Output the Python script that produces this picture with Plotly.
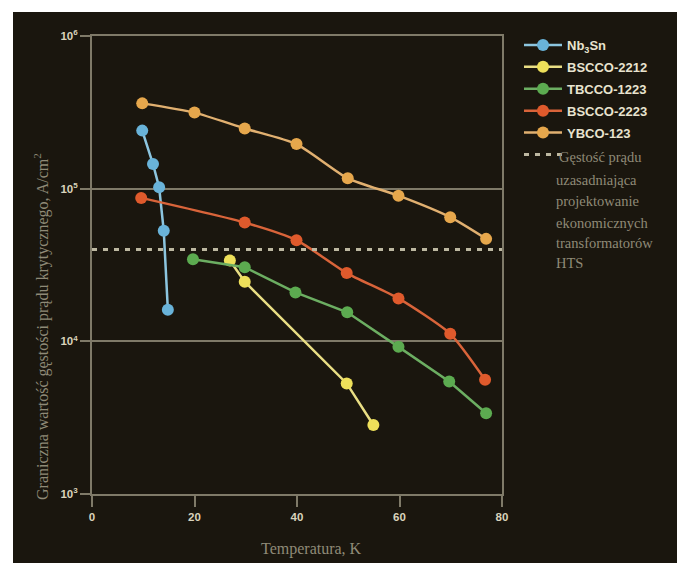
import plotly.graph_objects as go

# ---- data ----
nb3sn_T = [9.8, 11.9, 13.1, 14.0, 14.8]
nb3sn_J = [240000, 145000, 102000, 53000, 16100]

bscco2212_T = [26.9, 29.8, 49.7, 54.9]
bscco2212_J = [33800, 24600, 5300, 2830]

tbcco1223_T = [19.7, 29.8, 39.7, 49.8, 59.8, 69.7, 76.9]
tbcco1223_J = [34500, 30600, 20900, 15500, 9200, 5450, 3380]

bscco2223_T = [9.6, 29.8, 39.9, 49.7, 59.8, 69.9, 76.7]
bscco2223_J = [87000, 60000, 46000, 28000, 19100, 11200, 5600]

ybco123_T = [9.8, 20.0, 29.8, 39.9, 49.9, 59.8, 69.9, 76.9]
ybco123_J = [362000, 315000, 248000, 196000, 117000, 90000, 65000, 46900]

threshold_T = [0, 80]
threshold_J = [40000, 40000]

x_ticks = [0, 20, 40, 60, 80]
y_ticks = [1e3, 1e4, 1e5, 1e6]
y_tick_text = ["10<sup>3</sup>", "10<sup>4</sup>", "10<sup>5</sup>", "10<sup>6</sup>"]

series_names = ["Nb<sub>3</sub>Sn", "BSCCO-2212", "TBCCO-1223", "BSCCO-2223", "YBCO-123"]
caption_lines = ["Gęstość prądu", "uzasadniająca", "projektowanie",
                 "ekonomicznych", "transformatorów", "HTS"]

# ---- style ----
OFF = 8  # page body margin; reference pixel positions are shifted by this
W, H = 685 - OFF, 563 - OFF
L, R, T, B = 92 - OFF, 502 - OFF, 36 - OFF, 494 - OFF
BG = "#1a160e"
GRID = "#7f7a68"
TICKFONT = "#d9d3bb"
SERIF = "#8f8a77"

colors = ["#69b3d9", "#eee05a", "#5cab50", "#df5a2c", "#e6a74c"]
line_colors = ["#8cc5df", "#e9de84", "#6cae62", "#d9643a", "#e1b070"]
shapes_ = ["linear", "linear", "linear", "spline", "spline"]

fig = go.Figure()
data = [(nb3sn_T, nb3sn_J), (bscco2212_T, bscco2212_J), (tbcco1223_T, tbcco1223_J),
        (bscco2223_T, bscco2223_J), (ybco123_T, ybco123_J)]
for i, ((xs, ys), name) in enumerate(zip(data, series_names)):
    fig.add_trace(go.Scatter(
        x=xs, y=ys, name=name, mode="lines+markers",
        line=dict(color=line_colors[i], width=2.5, shape=shapes_[i], smoothing=0.6),
        marker=dict(color=colors[i], size=12),
        legendgroup=f"g{i}", legendrank=i + 1,
    ))

fig.add_trace(go.Scatter(
    x=threshold_T, y=threshold_J, name=" ", mode="lines",
    line=dict(color="#bdb8a1", width=3, dash="5px,6px"),
    legendgroup="g9", legendrank=10,
))


def px_x(p):
    return (p - OFF - L) / (R - L)


def px_y(p):
    return (B - (p - OFF)) / (B - T)


annotations = []
cap_y = [157, 180, 201, 223, 243, 263]
cap_x = [557, 554, 554, 554, 554, 554]
for txt, yy, xx in zip(caption_lines, cap_y, cap_x):
    annotations.append(dict(
        text=txt, xref="paper", yref="paper", x=px_x(xx), y=px_y(yy),
        xanchor="left", yanchor="middle", showarrow=False,
        font=dict(family="Liberation Serif", size=14.5, color=SERIF)))

annotations.append(dict(
    text="Temperatura, K", xref="paper", yref="paper", x=px_x(311), y=px_y(549),
    xanchor="center", yanchor="middle", showarrow=False,
    font=dict(family="Liberation Serif", size=16, color=SERIF)))
annotations.append(dict(
    text="Graniczna wartość gęstości prądu krytycznego, A/cm<sup>2</sup>",
    xref="paper", yref="paper", x=px_x(41), y=px_y(327), textangle=-90,
    xanchor="center", yanchor="middle", showarrow=False,
    font=dict(family="Liberation Serif", size=16, color=SERIF)))

shapes = [
    dict(type="rect", xref="paper", yref="paper", x0=px_x(0), x1=px_x(13),
         y0=px_y(580), y1=px_y(0), fillcolor="white", line=dict(width=0), layer="above"),
    dict(type="rect", xref="paper", yref="paper", x0=px_x(0), x1=px_x(700),
         y0=px_y(12), y1=px_y(0), fillcolor="white", line=dict(width=0), layer="above"),
]

fig.update_layout(
    width=W, height=H,
    margin=dict(l=L, r=W - R, t=T, b=H - B, pad=0),
    paper_bgcolor=BG, plot_bgcolor=BG,
    showlegend=True,
    legend=dict(
        x=px_x(519), y=px_y(30), xanchor="left", yanchor="top",
        bgcolor="rgba(0,0,0,0)", traceorder="grouped", tracegroupgap=2,
        font=dict(family="Liberation Sans", size=13, color="#e8e3cf", weight="bold"),
        itemwidth=38,
    ),
    annotations=annotations,
    shapes=shapes,
    xaxis=dict(
        range=[0, 80], tickvals=x_ticks, ticks="outside", ticklen=11, tickwidth=2,
        tickcolor=GRID, showline=True, linecolor=GRID, linewidth=2, mirror=True,
        showgrid=False, zeroline=False,
        tickfont=dict(family="Liberation Sans", size=11.5, color=TICKFONT, weight="bold"),
    ),
    yaxis=dict(
        type="log", range=[3, 6], tickvals=y_ticks, ticktext=y_tick_text,
        ticks="outside", ticklen=10, tickwidth=2, tickcolor=GRID,
        showline=True, linecolor=GRID, linewidth=2, mirror=True,
        showgrid=True, gridcolor=GRID, gridwidth=2, zeroline=False,
        tickfont=dict(family="Liberation Sans", size=11.5, color=TICKFONT, weight="bold"),
    ),
)

fig.write_html("out.html")
